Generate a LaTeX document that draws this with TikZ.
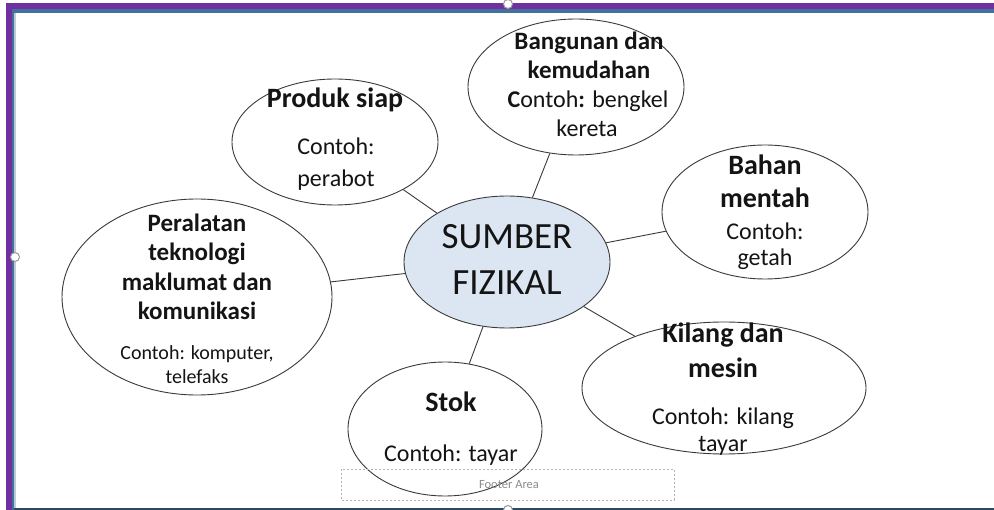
\documentclass[tikz,border=0pt]{standalone}
\usepackage{fontspec}
\setmainfont{Carlito}
\usetikzlibrary{shapes.geometric}
\definecolor{purp}{HTML}{7030A0}
\definecolor{bord}{HTML}{41719C}
\definecolor{bordl}{HTML}{BCCBD8}
\definecolor{cfill}{HTML}{DCE6F2}
\definecolor{ink}{HTML}{141414}
\definecolor{edge}{HTML}{3A3A3A}
\tikzset{
  bub/.style={ellipse, draw=edge, line width=0.9pt, inner sep=0pt},
  link/.style={draw=edge, line width=0.9pt},
  hd/.style={anchor=base, inner sep=0pt, text=ink, font=\fontsize{28}{34}\selectfont\bfseries},
  hds/.style={anchor=base, inner sep=0pt, text=ink, font=\fontsize{25}{30}\selectfont\bfseries},
  tx/.style={anchor=base, inner sep=0pt, text=ink, font=\fontsize{24}{29}\selectfont},
  txs/.style={anchor=base, inner sep=0pt, text=ink, font=\fontsize{20}{24}\selectfont},
  big/.style={anchor=base, inner sep=0pt, text=ink, font=\fontsize{37}{44}\selectfont},
  handle/.style={circle, draw=black!40, fill=white, line width=1pt, minimum size=9pt, inner sep=0pt}
}
\begin{document}
\begin{tikzpicture}[x=1pt,y=-1pt]
\useasboundingbox (0,0) rectangle (994,510);
% window frame
\fill[white] (0,0) rectangle (994,510);
\fill[bordl] (12,12) rectangle (16,510);
\fill[bord] (12,9) rectangle (994,13);
\fill[bord] (12,9) rectangle (14,510);
\fill[purp] (6,3) rectangle (994,9);
\fill[purp] (6,3) rectangle (12,510);
\fill[black!35!bord] (14,508) rectangle (994,510);
% ellipses
\node[bub, fill=cfill, minimum width=206pt, minimum height=132pt] (c) at (507,262) {};
\node[bub, minimum width=206pt, minimum height=126pt] (p) at (335,142) {};
\node[bub, minimum width=216pt, minimum height=136pt] (b) at (576,87) {};
\node[bub, minimum width=206pt, minimum height=134pt] (m) at (765,212) {};
\node[bub, minimum width=270pt, minimum height=196pt] (t) at (197,297) {};
\node[bub, minimum width=284pt, minimum height=132pt] (k) at (724,388) {};
\node[bub, minimum width=194pt, minimum height=134pt] (s) at (445,429) {};
% connectors
\foreach \n in {p,b,m,t,k,s} \draw[link] (c) -- (\n);
% centre text
\node[big] (c1) at (507,249) {SUMBER};
\node[big] (c2) at (507,295) {FIZIKAL};
% Produk siap
\node[hd] (p1) at (335,108) {Produk siap};
\node[tx] (p2) at (336,155) {Contoh:};
\node[tx] (p3) at (336,187) {perabot};
% Bangunan
\node[hds] (b1) at (589,50) {Bangunan dan};
\node[hds] (b2) at (589,79) {kemudahan};
\node[tx] (b3) at (588,108) {\textbf{C}ontoh\textbf{:} bengkel};
\node[tx] (b4) at (587,137) {kereta};
% Bahan mentah
\node[hd] (m1) at (765,175) {Bahan};
\node[hd] (m2) at (765,208) {mentah};
\node[tx] (m3) at (765,240) {Contoh:};
\node[tx] (m4) at (765,266) {getah};
% Peralatan
\node[hds] (t1) at (197,232) {Peralatan};
\node[hds] (t2) at (197,261) {teknologi};
\node[hds] (t3) at (197,291) {maklumat dan};
\node[hds] (t4) at (197,320) {komunikasi};
\node[txs] (t5) at (197,360) {Contoh: komputer,};
\node[txs] (t6) at (197,384) {telefaks};
% Kilang
\node[hd] (k1) at (723,343) {Kilang dan};
\node[hd] (k2) at (723,378) {mesin};
\node[tx] (k3) at (723,425) {Contoh: kilang};
\node[tx] (k4) at (723,452) {tayar};
% Stok
\node[hd] (s1) at (451,412) {Stok};
\node[tx] (s2) at (451,462) {Contoh: tayar};
% footer
\draw[black!30, line width=0.8pt, dash pattern=on 2pt off 2pt] (341,469) rectangle (674,500);
\node[text=black!45, font=\fontsize{12.5}{15}\selectfont, inner sep=0pt] (fa) at (509,485) {Footer Area};
% handles
\node[handle] (h1) at (15,257) {};
\node[handle] (h2) at (508,4) {};
\node[handle] (h3) at (508,510) {};
\end{tikzpicture}
\end{document}
